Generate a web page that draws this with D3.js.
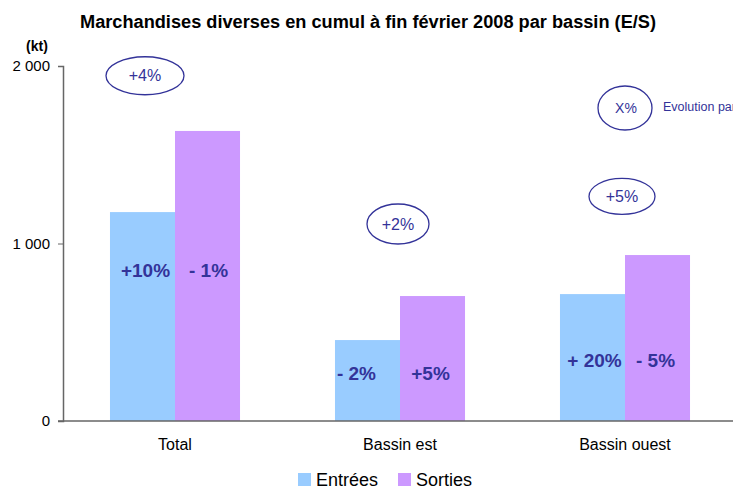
<!DOCTYPE html>
<html>
<head>
<meta charset="utf-8">
<script src="https://cdn.jsdelivr.net/npm/d3@7"></script>
<style>
  body { margin: 0; background: #fff; }
  svg { font-family: "Liberation Sans", Arial, sans-serif; }
</style>
</head>
<body>
<div id="chart"></div>
<script>
// data
var categories = ["Total", "Bassin est", "Bassin ouest"];
var entrees = [1177, 456, 715];
var sorties = [1634, 704, 935];
var entreesLabels = ["+10%", "- 2%", "+ 20%"];
var sortiesLabels = ["- 1%", "+5%", "- 5%"];
var totalLabels = ["+4%", "+2%", "+5%"];
var totalLabelValues = [1945, 1110, 1265];
var yTicks = [0, 1000, 2000];

const width = 733;
const height = 489;
const margin = { left: 63, top: 66, bottom: 68 };
const blue = "#333399";

const svg = d3.select("#chart").append("svg")
  .attr("width", width)
  .attr("height", height);

const x = d3.scaleBand()
  .domain(categories)
  .range([62.5, 737.5])
  .paddingInner(0.422)
  .paddingOuter(0.211);

const y = d3.scaleLinear()
  .domain([0, 2000])
  .range([height - margin.bottom, margin.top]);

const fmt = d => d3.format(",")(d).replace(",", " ");

// title (narrow font in the original, so squeeze it)
svg.append("text")
  .attr("x", 80).attr("y", 28)
  .attr("textLength", 576)
  .attr("lengthAdjust", "spacingAndGlyphs")
  .style("font-weight", "bold")
  .style("font-size", "18px")
  .text("Marchandises diverses en cumul à fin février 2008 par bassin (E/S)");

svg.append("text")
  .attr("x", 37).attr("y", 51)
  .attr("text-anchor", "middle")
  .style("font-weight", "bold")
  .style("font-size", "14px")
  .text("(kt)");

// bars
const bw = x.bandwidth() / 2;
svg.append("g").selectAll("rect")
  .data(categories)
  .enter().append("rect")
  .attr("x", d => x(d))
  .attr("y", (d, i) => y(entrees[i]))
  .attr("width", bw)
  .attr("height", (d, i) => y(0) - y(entrees[i]))
  .attr("fill", "#99CCFF");

svg.append("g").selectAll("rect")
  .data(categories)
  .enter().append("rect")
  .attr("x", d => x(d) + bw)
  .attr("y", (d, i) => y(sorties[i]))
  .attr("width", bw)
  .attr("height", (d, i) => y(0) - y(sorties[i]))
  .attr("fill", "#CC99FF");

// y axis
const yAxis = d3.axisLeft(y).tickValues(yTicks).tickFormat(fmt).tickSize(5).tickPadding(8);
const yg = svg.append("g")
  .attr("transform", "translate(" + margin.left + ",0)")
  .call(yAxis);
yg.select(".domain").attr("stroke", "#666").attr("stroke-width", 1.5);
yg.selectAll(".tick line").attr("stroke", "#666");
yg.selectAll(".tick text").style("font-size", "15px").attr("fill", "#000")
  .style("font-family", "'Liberation Sans', Arial, sans-serif");

// x axis line
svg.append("line")
  .attr("x1", margin.left - 5).attr("x2", width)
  .attr("y1", y(0)).attr("y2", y(0))
  .attr("stroke", "#666").attr("stroke-width", 1.5);

svg.append("g").selectAll("text")
  .data(categories)
  .enter().append("text")
  .attr("x", d => x(d) + x.bandwidth() / 2)
  .attr("y", y(0) + 29)
  .attr("text-anchor", "middle")
  .style("font-size", "16px")
  .text(d => d);

// bar labels
const labelY = [270, 373, 360];
svg.append("g").selectAll("text")
  .data(categories)
  .enter().append("text")
  .attr("x", (d, i) => x(d) + bw / 2 + [3, -11, 2][i])
  .attr("y", (d, i) => labelY[i])
  .attr("dy", "0.35em")
  .attr("text-anchor", "middle")
  .style("font-weight", "bold").style("font-size", "19px")
  .attr("fill", blue)
  .text((d, i) => entreesLabels[i]);

svg.append("g").selectAll("text")
  .data(categories)
  .enter().append("text")
  .attr("x", (d, i) => x(d) + bw * 1.5 + [1, -2, -2][i])
  .attr("y", (d, i) => labelY[i])
  .attr("dy", "0.35em")
  .attr("text-anchor", "middle")
  .style("font-weight", "bold").style("font-size", "19px")
  .attr("fill", blue)
  .text((d, i) => sortiesLabels[i]);

// ellipses with total evolution
const ell = [
  { cx: 145, rx: 39, ry: 19 },
  { cx: 398, rx: 31, ry: 20 },
  { cx: 622, rx: 33, ry: 18 }
];
const eg = svg.append("g").selectAll("g")
  .data(categories)
  .enter().append("g");
eg.append("ellipse")
  .attr("cx", (d, i) => ell[i].cx)
  .attr("cy", (d, i) => y(totalLabelValues[i]))
  .attr("rx", (d, i) => ell[i].rx)
  .attr("ry", (d, i) => ell[i].ry)
  .attr("fill", "none").attr("stroke", blue).attr("stroke-width", 1.3);
eg.append("text")
  .attr("x", (d, i) => ell[i].cx)
  .attr("y", (d, i) => y(totalLabelValues[i]))
  .attr("dy", "0.35em")
  .attr("text-anchor", "middle")
  .style("font-size", "16px")
  .attr("fill", blue)
  .text((d, i) => totalLabels[i]);

// key for ellipses
svg.append("ellipse")
  .attr("cx", 625).attr("cy", 108).attr("rx", 27).attr("ry", 22)
  .attr("fill", "none").attr("stroke", blue).attr("stroke-width", 1.3);
svg.append("text")
  .attr("x", 626).attr("y", 108).attr("dy", "0.35em")
  .attr("text-anchor", "middle").style("font-size", "14px")
  .attr("fill", blue).text("X%");
svg.append("text")
  .attr("x", 663).attr("y", 107).attr("dy", "0.35em")
  .style("font-size", "12.5px")
  .attr("fill", blue).text("Evolution par rapport à 2007");

// legend
const legend = [
  { name: "Entrées", color: "#99CCFF", x: 298 },
  { name: "Sorties", color: "#CC99FF", x: 398 }
];
const lg = svg.append("g").selectAll("g")
  .data(legend).enter().append("g")
  .attr("transform", d => "translate(" + d.x + ",473)");
lg.append("rect").attr("width", 13).attr("height", 13).attr("fill", d => d.color);
lg.append("text").attr("x", 18).attr("y", 13)
  .style("font-size", "18px").text(d => d.name);
</script>
</body>
</html>
